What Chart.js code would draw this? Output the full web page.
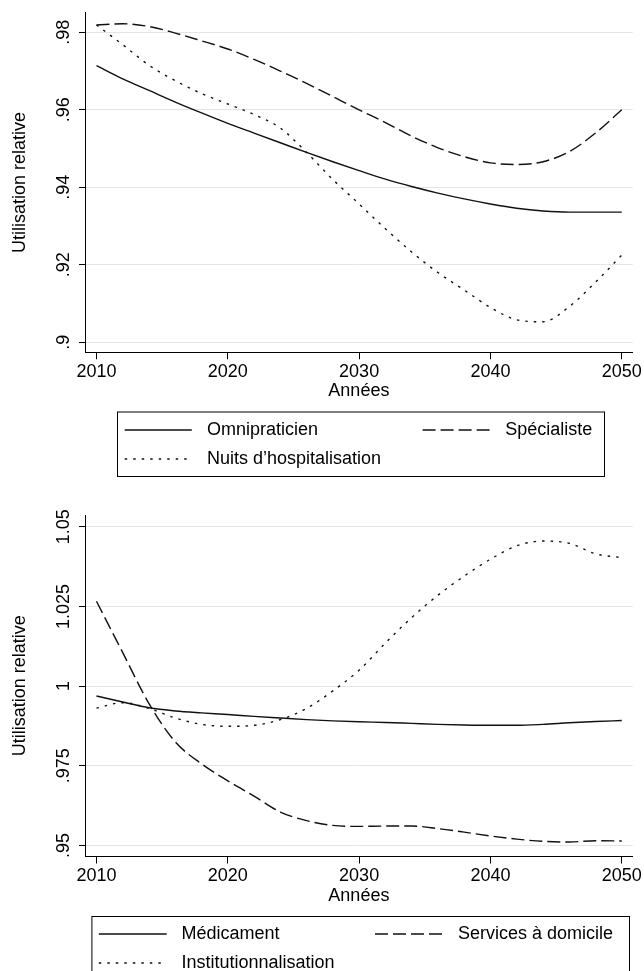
<!DOCTYPE html>
<html>
<head>
<meta charset="utf-8">
<script src="https://cdn.jsdelivr.net/npm/chart.js@4.4.1/dist/chart.umd.min.js"></script>
<style>
  html, body { margin: 0; padding: 0; background: #fff; }
  body { width: 644px; height: 971px; position: relative; overflow: hidden; }
  .panel { position: absolute; left: 0; width: 644px; }
  #panelTop { top: 0; height: 490px; }
  #panelBottom { top: 490px; height: 481px; }
  canvas { display: block; }
</style>
</head>
<body>
<div class="panel" id="panelTop"><canvas id="chartTop" width="644" height="490"></canvas></div>
<div class="panel" id="panelBottom"><canvas id="chartBottom" width="644" height="481"></canvas></div>
<script>
// Projection years (every two years)
const years = [2010, 2012, 2014, 2016, 2018, 2020, 2022, 2024, 2026, 2028, 2030,
               2032, 2034, 2036, 2038, 2040, 2042, 2044, 2046, 2048, 2050];
const xTicks = [2010, 2020, 2030, 2040, 2050];
const xTitle = 'Années';
const yTitle = 'Utilisation relative';

// Top panel: physician visits and hospital nights
const omnipraticien = [0.9714, 0.9680, 0.9650, 0.9620, 0.9592, 0.9565, 0.9540, 0.9515, 0.9490, 0.9466, 0.9443,
                       0.9421, 0.9402, 0.9385, 0.9370, 0.9357, 0.9346, 0.9339, 0.9336, 0.9336, 0.9336];
const specialiste   = [0.9819, 0.9822, 0.9815, 0.9798, 0.9778, 0.9757, 0.9730, 0.9700, 0.9668, 0.9634, 0.9600,
                       0.9567, 0.9532, 0.9502, 0.9479, 0.9463, 0.9459, 0.9466, 0.9492, 0.9540, 0.9600];
const nuitsHosp     = [0.9819, 0.9768, 0.9715, 0.9675, 0.9642, 0.9615, 0.9588, 0.9553, 0.9490, 0.9420, 0.9357,
                       0.9293, 0.9233, 0.9180, 0.9135, 0.9090, 0.9058, 0.9053, 0.9092, 0.9155, 0.9225];
const topTickValues = [0.90, 0.92, 0.94, 0.96, 0.98];
const topTickLabels = ['.9', '.92', '.94', '.96', '.98'];

// Bottom panel: drugs, home care and institutional care
const medicament     = [0.9969, 0.9950, 0.9932, 0.9922, 0.9916, 0.9911, 0.9905, 0.9900, 0.9895, 0.9891, 0.9888,
                        0.9886, 0.9883, 0.9880, 0.9878, 0.9877, 0.9877, 0.9880, 0.9885, 0.9889, 0.9892];
const servicesDom    = [1.0266, 1.0105, 0.9945, 0.9825, 0.9756, 0.9703, 0.9655, 0.9605, 0.9578, 0.9563, 0.9560,
                        0.9561, 0.9561, 0.9553, 0.9542, 0.9530, 0.9520, 0.9513, 0.9511, 0.9515, 0.9514];
const institution    = [0.9931, 0.9948, 0.9930, 0.9900, 0.9880, 0.9874, 0.9877, 0.9895, 0.9930, 0.9985, 1.0050,
                        1.0135, 1.0215, 1.0285, 1.0345, 1.0398, 1.0440, 1.0455, 1.0448, 1.0415, 1.0403];
const bottomTickValues = [0.95, 0.975, 1.0, 1.025, 1.05];
const bottomTickLabels = ['.95', '.975', '1', '1.025', '1.05'];

const FONT = '"Liberation Sans", Arial, Helvetica, sans-serif';
Chart.defaults.font.family = FONT;
Chart.defaults.font.size = 18;
Chart.defaults.font.weight = 'normal';
Chart.defaults.color = '#000';

const SOLID = [];
const DASHED = [13, 5];
const DOTTED = [2.5, 6];

function series(label, values, dash) {
  return {
    label: label,
    data: years.map((yr, i) => ({ x: yr, y: values[i] })),
    borderColor: '#111',
    borderWidth: 1.4,
    borderDash: dash,
    borderCapStyle: 'butt',
    pointRadius: 0,
    fill: false,
    cubicInterpolationMode: 'monotone'
  };
}

// Rotated y tick labels and the boxed legend below each panel
const panelDecor = {
  id: 'panelDecor',
  afterDraw(chart, args, opts) {
    const ctx = chart.ctx;
    const yScale = chart.scales.y;
    ctx.save();
    ctx.fillStyle = '#000';
    ctx.font = 'normal 18px ' + FONT;
    ctx.textAlign = 'center';
    ctx.textBaseline = 'alphabetic';
    opts.tickValues.forEach((v, i) => {
      const py = yScale.getPixelForValue(v);
      ctx.save();
      ctx.translate(opts.labelX, py);
      ctx.rotate(-Math.PI / 2);
      ctx.fillText(opts.tickLabels[i], 0, 0);
      ctx.restore();
    });

    const b = opts.box;
    ctx.lineWidth = 1;
    ctx.strokeStyle = '#000';
    ctx.setLineDash([]);
    ctx.strokeRect(b.x + 0.5, b.y + 0.5, b.w, b.h);

    opts.items.forEach(it => {
      const ds = chart.data.datasets[it.index];
      ctx.beginPath();
      ctx.setLineDash(ds.borderDash || []);
      ctx.lineWidth = ds.borderWidth;
      ctx.strokeStyle = ds.borderColor;
      ctx.moveTo(it.x1, it.y);
      ctx.lineTo(it.x2, it.y);
      ctx.stroke();
      ctx.setLineDash([]);
      ctx.textAlign = 'left';
      ctx.textBaseline = 'middle';
      ctx.fillText(ds.label, it.tx, it.y);
    });
    ctx.restore();
  }
};

function makeChart(canvasId, datasets, yMin, yMax, tickValues, tickLabels, padTop, padBottom, decor) {
  return new Chart(document.getElementById(canvasId), {
    type: 'line',
    data: { datasets: datasets },
    plugins: [panelDecor],
    options: {
      responsive: false,
      devicePixelRatio: 1,
      animation: false,
      events: [],
      layout: { padding: { top: padTop, bottom: padBottom, left: 0, right: 10.3 } },
      plugins: {
        legend: { display: false },
        tooltip: { enabled: false },
        panelDecor: decor
      },
      scales: {
        x: {
          type: 'linear',
          min: 2009.126,
          max: 2050.836,
          afterBuildTicks: s => { s.ticks = xTicks.map(v => ({ value: v })); },
          afterFit: s => { s.height = 50; },
          grid: { display: true, drawOnChartArea: false, drawTicks: true, tickLength: 7, tickColor: '#000', color: '#000' },
          border: { display: true, color: '#000', width: 1 },
          ticks: { padding: 2, maxRotation: 0, minRotation: 0, autoSkip: false, color: '#000',
                   font: { size: 18, weight: 'normal' }, major: { enabled: false },
                   callback: v => String(v) },
          title: { display: true, text: xTitle, color: '#000', font: { size: 18, weight: 'normal' },
                   padding: { top: 0, bottom: 0 } }
        },
        y: {
          type: 'linear',
          min: yMin,
          max: yMax,
          afterBuildTicks: s => { s.ticks = tickValues.map(v => ({ value: v })); },
          afterFit: s => { s.width = 85; },
          grid: { color: '#e4e4e4', lineWidth: 1, drawTicks: true, tickLength: 6, tickColor: '#000' },
          border: { display: true, color: '#000', width: 1 },
          ticks: { display: false },
          title: { display: true, text: yTitle, color: '#000', font: { size: 18, weight: 'normal' },
                   padding: { top: 9, bottom: 0 } }
        }
      }
    }
  });
}

makeChart('chartTop',
  [series('Omnipraticien', omnipraticien, SOLID),
   series('Spécialiste', specialiste, DASHED),
   series('Nuits d’hospitalisation', nuitsHosp, DOTTED)],
  0.89742, 0.98506, topTickValues, topTickLabels, 12.7, 87.7,
  {
    tickValues: topTickValues, tickLabels: topTickLabels, labelX: 69.2,
    box: { x: 117, y: 411.5, w: 487, h: 64.5 },
    items: [
      { index: 0, x1: 124.7, x2: 191.8, tx: 207, y: 430 },
      { index: 1, x1: 422.6, x2: 490.5, tx: 505.3, y: 430 },
      { index: 2, x1: 124.7, x2: 191.8, tx: 207, y: 459 }
    ]
  });

makeChart('chartBottom',
  [series('Médicament', medicament, SOLID),
   series('Services à domicile', servicesDom, DASHED),
   series('Institutionnalisation', institution, DOTTED)],
  0.94655, 1.05367, bottomTickValues, bottomTickLabels, 25, 64.5,
  {
    tickValues: bottomTickValues, tickLabels: bottomTickLabels, labelX: 69.2,
    box: { x: 91.4, y: 426, w: 537.6, h: 64 },
    items: [
      { index: 0, x1: 98.8, x2: 166.7, tx: 181.5, y: 444 },
      { index: 1, x1: 375, x2: 443.6, tx: 458, y: 444 },
      { index: 2, x1: 98.8, x2: 166.7, tx: 181.5, y: 473 }
    ]
  });
</script>
</body>
</html>
